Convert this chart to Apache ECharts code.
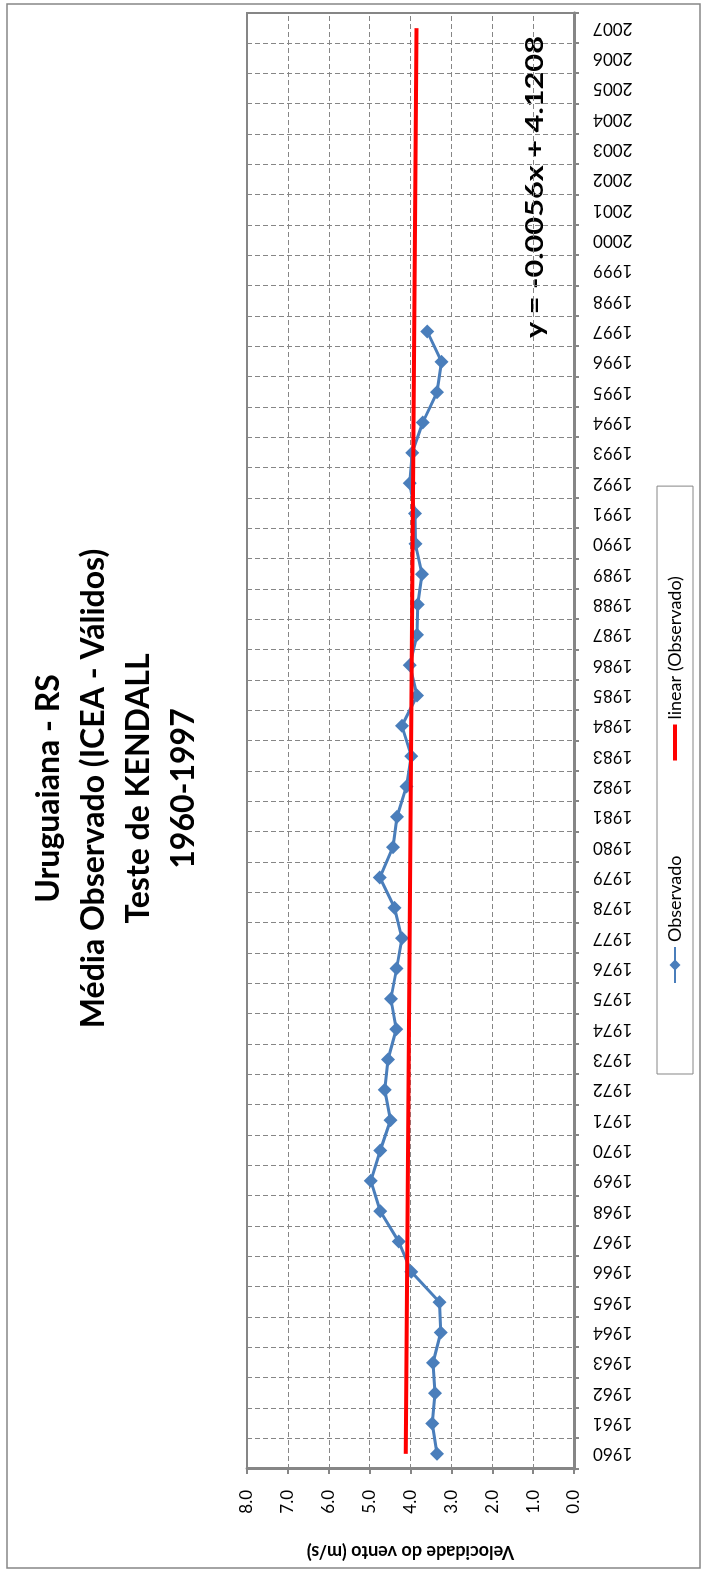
<!DOCTYPE html>
<html>
<head>
<meta charset="utf-8">
<script src="https://cdn.jsdelivr.net/npm/echarts@6/dist/echarts.min.js"></script>
<style>
  html, body { margin: 0; padding: 0; width: 707px; height: 1577px; overflow: hidden; background: #fff; }
  /* The chart is laid out landscape and turned a quarter turn counter-clockwise onto the portrait page. */
  #chart {
    position: absolute; left: 0; top: 0;
    width: 1577px; height: 707px;
    transform-origin: 0 0;
    transform: translate(0, 1577px) rotate(-90deg);
  }
</style>
</head>
<body>
<div id="chart"></div>
<script>
// Year categories on the horizontal axis
const years = [
  '1960','1961','1962','1963','1964','1965','1966','1967','1968','1969',
  '1970','1971','1972','1973','1974','1975','1976','1977','1978','1979',
  '1980','1981','1982','1983','1984','1985','1986','1987','1988','1989',
  '1990','1991','1992','1993','1994','1995','1996','1997','1998','1999',
  '2000','2001','2002','2003','2004','2005','2006','2007'
];

// Mean observed wind speed (m/s), 1960-1997
const observado = [
  3.35, 3.47, 3.40, 3.45, 3.26, 3.29, 3.98, 4.29, 4.74, 4.97,
  4.74, 4.49, 4.63, 4.55, 4.35, 4.48, 4.34, 4.21, 4.39, 4.75,
  4.43, 4.33, 4.10, 3.98, 4.21, 3.84, 4.02, 3.84, 3.82, 3.72,
  3.88, 3.89, 4.02, 3.96, 3.70, 3.35, 3.24, 3.59
];

// Linear trend y = slope * x + intercept, x = 1 for the first year
const trendSlope = -0.0056;
const trendIntercept = 4.1208;

const titleLines = ['Uruguaiana - RS', 'Média Observado (ICEA - Válidos)', 'Teste de KENDALL', '1960-1997'];
const valueAxisName = 'Velocidade do vento (m/s)';
const equationText = 'y = -0.0056x + 4.1208';

// Straight trend line drawn between its first and last year
const trendLine = [
  [years[0], +(trendIntercept + trendSlope * 1).toFixed(4)],
  [years[years.length - 1], +(trendIntercept + trendSlope * years.length).toFixed(4)]
];

const FONT = 'Lato, "Open Sans", sans-serif';
const GRAY = '#868686';

const chart = echarts.init(document.getElementById('chart'), null, { width: 1577, height: 707 });

chart.setOption({
  animation: false,
  backgroundColor: '#ffffff',
  title: {
    text: titleLines.join('\n'),
    left: 'center',
    top: 26,
    padding: [0, 0, 0, 16],
    textStyle: { fontFamily: FONT, fontWeight: 'bold', fontSize: 32, lineHeight: 45, color: '#000' }
  },
  legend: {
    data: [
      { name: 'Observado' },
      { name: 'linear (Observado)', icon: 'path://M0,0H36V4H0Z' }
    ],
    left: 503,
    top: 657,
    padding: [9, 90, 9, 90],
    itemGap: 95,
    itemWidth: 36,
    itemHeight: 14,
    borderColor: GRAY,
    borderWidth: 1,
    textStyle: { fontFamily: FONT, fontSize: 18, color: '#000' }
  },
  grid: {
    left: 108, top: 247, width: 1456, height: 327,
    show: true, borderColor: GRAY, borderWidth: 2, backgroundColor: 'transparent'
  },
  xAxis: {
    type: 'category',
    data: years,
    boundaryGap: true,
    axisLine: { lineStyle: { color: GRAY, width: 3 } },
    axisTick: { show: true, interval: 0, length: 5, lineStyle: { color: GRAY, width: 2 } },
    axisLabel: {
      interval: 0, rotate: 90, margin: 19,
      padding: [18, 0, 0, 0],
      fontFamily: FONT, fontSize: 17, color: '#000'
    },
    splitLine: { show: true, interval: 0, lineStyle: { color: GRAY, type: [5, 3], width: 1 } }
  },
  yAxis: {
    type: 'value',
    min: 0, max: 8, interval: 1,
    name: valueAxisName,
    nameLocation: 'middle',
    nameRotate: 90,
    nameGap: 74,
    nameTextStyle: { fontFamily: FONT, fontWeight: 'bold', fontSize: 18, color: '#000' },
    axisLine: { show: true, lineStyle: { color: GRAY, width: 3 } },
    axisTick: { show: true, length: 5, lineStyle: { color: GRAY, width: 2 } },
    axisLabel: {
      margin: 21, fontFamily: FONT, fontSize: 17, color: '#000',
      formatter: v => v.toFixed(1)
    },
    splitLine: { show: true, lineStyle: { color: GRAY, type: [5, 3], width: 1 } }
  },
  series: [
    {
      name: 'Observado',
      type: 'line',
      data: observado,
      symbol: 'diamond',
      symbolSize: 14,
      lineStyle: { color: '#4A7EBB', width: 3 },
      itemStyle: { color: '#4A7EBB' },
      z: 2
    },
    {
      name: 'linear (Observado)',
      type: 'line',
      data: trendLine,
      symbol: 'none',
      lineStyle: { color: '#FF0000', width: 4 },
      itemStyle: { color: '#FF0000' },
      z: 3
    }
  ],
  graphic: [
    {
      type: 'rect',
      silent: true,
      z: -10,
      shape: { x: 9, y: 7, width: 1564, height: 693 },
      style: { fill: 'none', stroke: GRAY, lineWidth: 1.5 }
    },
    {
      type: 'text',
      silent: true,
      x: 1390, y: 535,
      scaleX: 1.28,
      style: {
        text: equationText,
        font: 'bold 24px ' + FONT,
        fill: '#000',
        align: 'center', verticalAlign: 'middle',
        textAlign: 'center', textVerticalAlign: 'middle'
      }
    }
  ]
});
</script>
</body>
</html>
